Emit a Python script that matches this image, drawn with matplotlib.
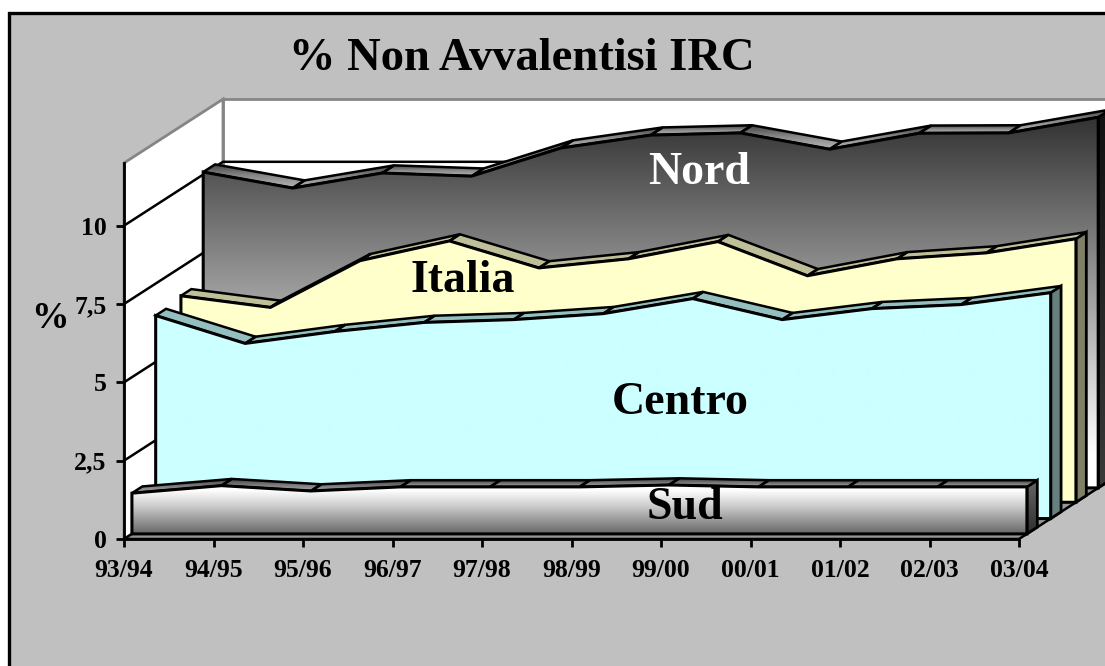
import matplotlib
matplotlib.use("Agg")
import matplotlib.pyplot as plt
import numpy as np
from matplotlib.colors import LinearSegmentedColormap
from matplotlib.patches import Polygon, Rectangle

# Chart data
periods = ["93/94", "94/95", "95/96", "96/97", "97/98", "98/99",
           "99/00", "00/01", "01/02", "02/03", "03/04"]
nord = [10.08, 9.57, 10.05, 9.95, 10.85, 11.26, 11.33, 10.81, 11.32, 11.33, 11.83]
italia = [6.59, 6.22, 7.71, 8.34, 7.48, 7.77, 8.32, 7.23, 7.77, 7.96, 8.41]
centro = [6.48, 5.59, 5.97, 6.26, 6.35, 6.54, 7.02, 6.35, 6.7, 6.83, 7.21]
sud = [1.3, 1.54, 1.37, 1.5, 1.5, 1.5, 1.56, 1.5, 1.5, 1.5, 1.5]
value_ticks = [0, 2.5, 5, 7.5, 10]
value_tick_labels = ["0", "2,5", "5", "7,5", "10"]

W, H = 1105, 666
SERIF = "Liberation Serif"
Y_MAX = 12
# Oblique projection of the depth axis, in data units per unit of depth
DEPTH_X = 99 / 89.5
DEPTH_Y = 64 / 31.4

fig = plt.figure(figsize=(W / 100, H / 100), dpi=100, facecolor="white")
fig.add_artist(Rectangle((9 / W, 1 - 690 / H), 1130 / W, 677 / H, transform=fig.transFigure,
                         facecolor="#c0c0c0", edgecolor="black", lw=2.4, zorder=-10))

ax = fig.add_axes([124 / W, 1 - 539 / H, 895 / W, 376 / H], facecolor="none")
ax.set_xlim(0, len(periods) - 1)
ax.set_ylim(0, Y_MAX)


def project(x, y, depth):
    return np.asarray(x, float) + depth * DEPTH_X, np.asarray(y, float) + depth * DEPTH_Y


def shape(xs, ys, **kw):
    kw.setdefault("clip_on", False)
    p = Polygon(np.column_stack([xs, ys]), closed=True, **kw)
    ax.add_patch(p)
    return p


def gradient(xs, ys, stops, z, edge="black", lw=2.0):
    """Fill a polygon with a vertical colour ramp, first stop at the bottom."""
    xs, ys = np.asarray(xs), np.asarray(ys)
    cmap = LinearSegmentedColormap.from_list("ramp", stops)
    ramp = np.linspace(1, 0, 256).reshape(-1, 1)
    im = ax.imshow(ramp, cmap=cmap, vmin=0, vmax=1, aspect="auto", origin="upper",
                   extent=[xs.min(), xs.max(), ys.min(), ys.max()], zorder=z,
                   interpolation="bilinear")
    clip = Polygon(np.column_stack([xs, ys]), closed=True, transform=ax.transData)
    im.set_clip_path(clip)
    im.set_clip_box(fig.bbox)
    shape(xs, ys, facecolor="none", edgecolor=edge, lw=lw, joinstyle="miter", zorder=z + 0.01)


def extruded_area(values, depth, thick, front, top, side, z):
    idx = np.arange(len(values))
    v = np.asarray(values)
    fx, fy = project(idx, v, depth)
    bx, by = project(idx, v, depth + thick)
    base_fx, base_fy = project(idx, np.zeros_like(v), depth)
    base_bx, base_by = project(idx, np.zeros_like(v), depth + thick)

    # Right-hand end of the extrusion
    sx = [fx[-1], bx[-1], base_bx[-1], base_fx[-1]]
    sy = [fy[-1], by[-1], base_by[-1], base_fy[-1]]
    gradient(sx, sy, side, z)

    # Upper facets, one per period
    for i in range(len(v) - 1):
        qx = [fx[i], fx[i + 1], bx[i + 1], bx[i]]
        qy = [fy[i], fy[i + 1], by[i + 1], by[i]]
        gradient(qx, qy, top, z + 0.1, lw=1.8)

    # Front face
    ax_x = np.concatenate([fx, [base_fx[-1], base_fx[0]]])
    ax_y = np.concatenate([fy, [base_fy[-1], base_fy[0]]])
    gradient(ax_x, ax_y, front, z + 0.2, lw=2.2)


# Walls and floor
last = len(periods) - 1
wx0, wy0 = project(0, 0, 1)
wx1, wy1 = project(last, 0, 1)
shape([wx0, wx1, wx1, wx0], [wy0, wy1, Y_MAX + DEPTH_Y, Y_MAX + DEPTH_Y],
      facecolor="white", edgecolor="#858585", lw=2.0, zorder=1)
shape([0, wx0, wx0, 0], [0, wy0, Y_MAX + DEPTH_Y, Y_MAX],
      facecolor="white", edgecolor="#858585", lw=2.0, zorder=1)
shape([0, last, wx1, wx0], [0, 0, wy1, wy0], facecolor="#969696", edgecolor="black",
      lw=1.8, zorder=1.5)

# Gridlines on the side and back walls
for tick in value_ticks[1:]:
    gx, gy = project([0, 0, last], tick, np.array([0, 1, 1]))
    ax.plot(gx, gy, color="black", lw=1.8, clip_on=False, zorder=2, solid_capstyle="butt")

extruded_area(nord, 0.80, 0.12,
              front=[(0, "#ffffff"), (0.09, "#ffffff"), (1, "#333333")],
              top=["#b5b5b5", "#8a8a8a", "#444444"],
              side=["#3a3a3a", "#111111"], z=3)
extruded_area(italia, 0.575, 0.105,
              front=["#ffffcc", "#ffffcc"], top=["#bfbf99", "#bfbf99"],
              side=["#808066", "#808066"], z=4)
extruded_area(centro, 0.32, 0.105,
              front=["#ccffff", "#ccffff"], top=["#95bfbf", "#95bfbf"],
              side=["#668080", "#668080"], z=5)
extruded_area(sud, 0.08, 0.105,
              front=[(0, "#666666"), (0.55, "#c8c8c8"), (0.9, "#ffffff"), (1, "#ffffff")],
              top=["#a8a8a8", "#777777", "#3c3c3c"],
              side=["#2e2e2e", "#666666"], z=6)

# Axes furniture
ax.set_xticks(range(len(periods)), periods)
ax.set_yticks(value_ticks, value_tick_labels)
for s in ("top", "right"):
    ax.spines[s].set_visible(False)
for s in ("left", "bottom"):
    ax.spines[s].set_linewidth(2.0)
    ax.spines[s].set_zorder(8)
ax.tick_params(axis="x", length=6, width=2.0, color="black", pad=8.5)
ax.tick_params(axis="y", length=6, width=2.0, color="black", pad=6.5)
for lab in ax.get_xticklabels() + ax.get_yticklabels():
    lab.set_fontfamily(SERIF)
    lab.set_fontweight("bold")
    lab.set_fontsize(18.5)
ax.set_ylabel("%", rotation=0, fontfamily=SERIF, fontweight="bold", fontsize=27)
ax.yaxis.set_label_coords(-74 / 895, (539 - 318) / 376, transform=ax.transAxes)
ax.yaxis.label.set_verticalalignment("center")

# Series names
name_style = dict(fontfamily=SERIF, fontweight="bold", fontsize=33, ha="center", va="center",
                  zorder=9, clip_on=False)
ax.text(6.43, 11.69, "Nord", color="white", **name_style)
ax.text(3.79, 8.24, "Italia", color="black", **name_style)
ax.text(6.21, 4.33, "Centro", color="black", **name_style)
ax.text(6.27, 0.98, "Sud", color="black", **name_style)

fig.text(522 / W, 1 - 59 / H, "% Non Avvalentisi IRC", fontfamily=SERIF, fontweight="bold",
         fontsize=33.5, ha="center", va="center", color="black")

ax.set_xlim(0, last)
ax.set_ylim(0, Y_MAX)
fig.savefig("out.png", dpi=100)
